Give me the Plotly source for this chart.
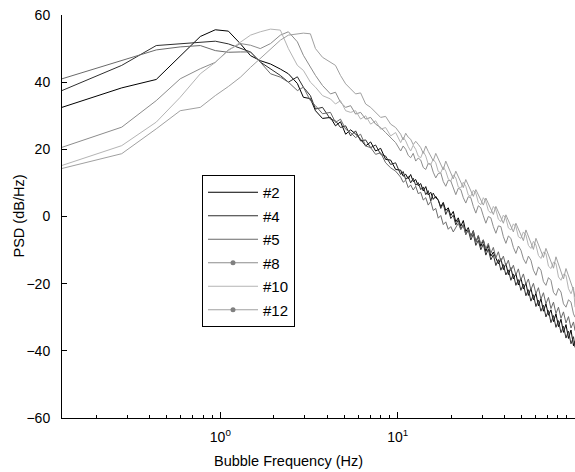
import numpy as np
import plotly.graph_objects as go

# Frequency grid (Hz): low/mid part, then a denser high-frequency part
freq_low = [0.128, 0.278, 0.435, 0.594, 0.771, 0.937, 1.11, 1.30, 1.48, 1.68, 1.92, 2.18, 2.42, 2.72, 2.94, 3.22,
            3.44, 3.77, 4.18, 4.46, 4.76, 5.09, 5.43, 5.79, 6.18, 6.60, 7.04, 7.51, 8.02, 8.55, 9.13, 9.74]
freq_high = [10.40, 10.74, 11.10, 11.47, 11.84, 12.24, 12.64, 13.06, 13.49, 13.94, 14.40, 14.87, 15.37, 15.87,
             16.40, 16.94, 17.50, 18.08, 18.67, 19.29, 19.93, 20.59, 21.27, 21.97, 22.70, 23.45, 24.22, 25.02,
             25.85, 26.71, 27.59, 28.50, 29.44, 30.42, 31.42, 32.46, 33.53, 34.64, 35.79, 36.97, 38.19, 39.45,
             40.76, 42.11, 43.50, 44.93, 46.42, 47.95, 49.54, 51.17, 52.87, 54.61, 56.42, 58.29, 60.22, 62.21,
             64.26, 66.38, 68.58, 70.85, 73.19, 75.61, 78.11, 80.69, 83.36, 86.10, 88.96, 91.90, 94.93, 98.07, 100.0]
freq = freq_low + freq_high

# PSD (dB/Hz) per bubble
psd_2 = [32.5, 38.3, 40.8, 47.8, 53.6, 55.6, 55.2, 51.4, 47.9, 46.4, 45.4, 43.9, 42.5, 39.6, 35.5, 35.1,
         31.5, 29.2, 29.5, 27.0, 28.2, 24.5, 25.8, 24.6, 23.0, 21.0, 22.2, 19.5, 20.3, 17.0, 16.8, 14.0,
         13.8, 12.0, 12.6, 11.2, 12.5, 10.4, 11.0, 9.2, 9.8, 7.6, 8.9, 6.4, 7.2, 5.1, 6.0, 4.8, 2.9, 4.2,
         1.8, 2.6, 0.3, 1.5, -1.6, -0.4, -2.9, -1.2, -4.5, -3.3, -5.9, -4.2, -7.6, -5.8, -8.9, -7.0, -10.4,
         -8.5, -11.8, -10.6, -12.4, -14.1, -12.5, -15.8, -14.0, -17.3, -15.2, -18.6, -17.0, -20.4, -18.3,
         -21.6, -19.8, -23.5, -21.4, -24.8, -22.9, -26.6, -24.5, -28.2, -26.0, -29.4, -27.8, -31.3, -29.0,
         -32.8, -30.6, -34.5, -32.2, -36.3, -33.8, -38.5, -37.0]

psd_4 = [37.5, 45.0, 50.9, 51.5, 51.9, 52.2, 51.4, 50.0, 49.0, 46.0, 44.0, 42.0, 40.0, 41.6, 38.5, 36.0,
         32.0, 32.5, 29.0, 28.5, 26.5, 27.0, 24.0, 25.5, 22.5, 22.8, 20.5, 21.3, 18.5, 18.0, 15.5, 16.0,
         12.5, 13.4, 11.0, 11.9, 10.0, 11.4, 9.3, 10.1, 8.0, 8.8, 6.5, 7.7, 4.6, 7.0, 5.5, 5.0, 2.4, 3.9,
         0.6, 2.2, -0.6, 0.4, -2.5, -1.0, -3.8, -2.4, -5.4, -4.0, -7.0, -5.2, -8.6, -7.1, -9.9, -8.2, -11.5,
         -9.7, -12.9, -11.4, -14.6, -12.8, -16.0, -14.3, -17.4, -15.9, -19.0, -17.1, -20.5, -18.8, -22.0,
         -20.1, -23.6, -21.8, -25.2, -23.3, -26.8, -24.9, -28.2, -26.4, -29.9, -28.0, -31.6, -29.5, -33.0,
         -31.0, -34.6, -32.7, -36.2, -34.1, -37.9, -35.8, -39.0]

psd_5 = [41.0, 46.4, 49.6, 50.5, 50.9, 49.4, 48.9, 49.0, 49.0, 46.0, 42.5, 41.5, 40.0, 37.5, 38.5, 34.5,
         33.0, 30.6, 31.0, 28.0, 29.0, 26.0, 25.0, 23.5, 24.5, 21.0, 20.5, 18.5, 19.0, 16.0, 14.5, 13.5,
         11.7, 10.2, 10.8, 8.6, 9.4, 7.9, 9.0, 6.8, 7.2, 4.9, 5.6, 3.4, 4.5, 1.8, 2.4, -0.5, 0.3, -2.4,
         -1.6, -3.8, -3.0, -4.6, -3.4, -2.0, -3.9, -2.6, -5.3, -3.7, -6.0, -4.4, -7.8, -5.6, -8.2, -6.9, -9.6,
         -8.0, -10.9, -9.2, -12.3, -10.5, -13.4, -11.8, -14.7, -13.0, -16.2, -14.5, -17.4, -15.6, -18.9,
         -17.1, -20.2, -18.6, -21.8, -19.9, -23.0, -21.2, -24.6, -22.7, -26.0, -24.1, -27.4, -25.5, -28.9,
         -27.0, -30.3, -28.4, -31.7, -29.8, -33.2, -31.4, -34.0]

psd_8 = [20.6, 26.6, 34.5, 41.0, 44.0, 45.9, 49.6, 51.5, 51.0, 50.0, 51.5, 54.0, 55.0, 52.0, 48.0, 44.5,
         42.0, 39.0, 36.5, 37.0, 34.0, 32.5, 33.0, 30.5, 31.0, 29.0, 29.5, 27.5, 26.5, 25.0, 23.5, 22.0,
         19.5, 21.0, 20.0, 18.2, 17.5, 18.8, 16.5, 17.4, 16.8, 14.6, 14.0, 15.8, 15.6, 13.2, 11.5, 12.8,
         13.0, 10.4, 9.0, 10.8, 10.6, 8.2, 6.5, 8.4, 8.0, 5.6, 4.0, 5.9, 5.6, 3.0, 1.0, 3.2, 2.6, 0.2, -2.0,
         0.0, -0.4, -3.0, -5.0, -2.8, -3.0, -6.0, -8.0, -5.8, -6.5, -9.2, -11.0, -8.8, -10.0, -12.6, -14.0,
         -11.8, -13.0, -16.0, -17.5, -15.0, -16.0, -19.4, -20.5, -18.2, -19.0, -22.6, -23.5, -21.4, -22.5,
         -26.0, -27.0, -24.8, -25.5, -29.0, -30.0]

psd_10 = [15.2, 21.1, 28.1, 35.5, 42.5, 45.9, 49.4, 52.0, 54.0, 55.0, 55.8, 55.5, 50.0, 45.0, 43.5, 40.0,
          38.5, 36.0, 35.0, 33.5, 34.5, 31.5, 31.0, 31.5, 29.0, 30.0, 27.5, 28.5, 26.0, 26.5, 24.0, 25.0,
          22.0, 23.6, 22.5, 20.8, 19.5, 21.2, 20.0, 18.0, 17.5, 19.4, 18.0, 15.6, 15.5, 17.0, 16.0, 13.4,
          13.0, 14.8, 13.5, 11.2, 10.5, 12.4, 11.5, 8.8, 8.5, 10.2, 9.0, 6.4, 6.0, 7.8, 7.0, 4.2, 3.5, 5.6,
          4.5, 1.8, 1.0, 3.0, 2.0, -0.8, -1.5, 0.4, -0.5, -3.4, -4.0, -2.2, -3.0, -6.0, -6.5, -4.6, -5.5,
          -8.6, -9.5, -7.4, -8.5, -11.6, -12.5, -10.6, -11.0, -14.8, -15.5, -13.6, -14.0, -18.0, -19.0,
          -17.2, -17.5, -21.5, -23.0, -21.0, -27.0]

psd_12 = [14.3, 18.7, 26.1, 31.5, 32.5, 36.0, 38.7, 41.5, 44.4, 47.0, 50.0, 52.5, 54.0, 54.4, 54.6, 54.4,
          50.0, 47.4, 45.9, 45.0, 42.0, 39.5, 38.0, 36.5, 36.8, 33.5, 32.5, 31.0, 29.5, 29.8, 27.5, 26.5,
          24.5, 22.8, 24.8, 23.6, 23.0, 21.4, 22.4, 21.5, 20.5, 18.8, 21.0, 19.4, 18.0, 16.6, 18.8, 17.0,
          15.5, 13.9, 16.5, 14.6, 12.5, 11.2, 13.5, 12.0, 10.0, 8.6, 11.0, 9.4, 7.5, 6.0, 8.0, 6.6, 5.0, 3.4,
          5.5, 4.0, 2.0, 0.6, 3.0, 1.4, -0.5, -2.0, 0.5, -1.2, -3.0, -4.6, -2.0, -3.8, -5.5, -7.2, -4.0, -6.0,
          -8.0, -9.8, -6.5, -8.6, -10.5, -12.2, -9.5, -11.4, -13.5, -15.4, -12.0, -14.2, -17.0, -18.6, -15.5,
          -17.6, -20.0, -22.0, -24.0]

series_names = ["#2", "#4", "#5", "#8", "#10", "#12"]
series_vals = [psd_2, psd_4, psd_5, psd_8, psd_10, psd_12]
x_tick_vals = [1, 10]
x_tick_text = ["10<sup>0</sup>", "10<sup>1</sup>"]
x_minor_vals = [0.2, 0.3, 0.4, 0.5, 0.6, 0.7, 0.8, 0.9, 2, 3, 4, 5, 6, 7, 8, 9, 20, 30, 40, 50, 60, 70, 80, 90]
y_tick_vals = [-60, -40, -20, 0, 20, 40, 60]

colors = ["#000000", "#2e2e2e", "#6a6a6a", "#8c8c8c", "#b4b4b4", "#a0a0a0"]
has_marker = [False, False, False, True, False, True]

for v in series_vals:
    assert len(v) == len(freq), (len(v), len(freq))

FONT = "Liberation Sans, Arial, sans-serif"
fig = go.Figure()
for name, vals, col in zip(series_names, series_vals, colors):
    fig.add_trace(go.Scatter(x=freq, y=vals, mode="lines", line=dict(color=col, width=1),
                             showlegend=False, hoverinfo="skip", legendgroup=name))
for name, col, mk in zip(series_names, colors, has_marker):
    fig.add_trace(go.Scatter(x=[None], y=[None], mode="lines+markers" if mk else "lines", name=name,
                             line=dict(color=col, width=1), marker=dict(size=5, color="#808080"),
                             legendgroup=name))

L, R, T, B = 62, 0, 15, 54
W, H = 575, 472
pw, ph = W - L - R, H - T - B

fig.update_layout(
    width=W, height=H,
    margin=dict(l=L, r=R, t=T, b=B),
    paper_bgcolor="white", plot_bgcolor="white",
    font=dict(family=FONT, size=14, color="black"),
    showlegend=True,
    legend=dict(x=(202 - L) / pw, y=(H - B - 175) / ph, xanchor="left", yanchor="top",
                bordercolor="black", borderwidth=1, bgcolor="white",
                font=dict(family=FONT, size=15, color="black"), tracegroupgap=1,
                itemwidth=50),
    xaxis=dict(type="log", range=[np.log10(0.128), 2.0], showline=True, linecolor="black", linewidth=1,
               ticks="inside", ticklen=6, tickcolor="black", tickvals=x_tick_vals, ticktext=x_tick_text,
               showgrid=False, zeroline=False, ticklabelstandoff=6,
               minor=dict(ticks="inside", ticklen=3, tickcolor="black", tickvals=x_minor_vals, showgrid=False)),
    yaxis=dict(range=[-60, 60], tickvals=y_tick_vals, showline=True, linecolor="black", linewidth=1,
               ticks="inside", ticklen=5, tickcolor="black", showgrid=False, zeroline=False,
               ticklabelstandoff=8),
    annotations=[
        dict(text="Bubble Frequency (Hz)", xref="paper", yref="paper", x=(288 - L) / pw, y=-(461 - (H - B)) / ph,
             xanchor="center", yanchor="middle", showarrow=False, font=dict(family=FONT, size=14.5)),
        dict(text="PSD (dB/Hz)", xref="paper", yref="paper", x=(18 - L) / pw, y=0.5, textangle=-90,
             xanchor="center", yanchor="middle", showarrow=False, font=dict(family=FONT, size=14.5)),
    ],
)

fig.write_html("out.html", config={"displayModeBar": False},
               post_script="document.body.style.margin='0';document.body.style.padding='0';")
